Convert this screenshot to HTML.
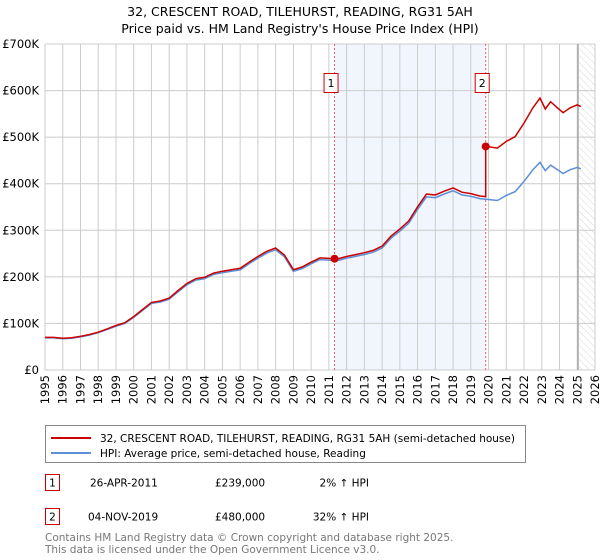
<!DOCTYPE html>
<html><head><meta charset="utf-8"><style>
body{margin:0;background:#fff;font-family:"Liberation Sans","DejaVu Sans",sans-serif;}
#wrap{position:relative;width:600px;height:560px;overflow:hidden}
</style></head><body><div id="wrap">
<svg id="chart" width="600" height="560" xmlns="http://www.w3.org/2000/svg" font-family="DejaVu Sans, Liberation Sans, sans-serif">
<text x="300" y="16" text-anchor="middle" font-size="12.5" fill="#000">32, CRESCENT ROAD, TILEHURST, READING, RG31 5AH</text>
<text x="300" y="33" text-anchor="middle" font-size="12.5" fill="#000">Price paid vs. HM Land Registry's House Price Index (HPI)</text>
<g id="plot"></g>
<g>
<rect x="45.5" y="425.5" width="480" height="37" fill="#fff" stroke="#888"/>
<line x1="51" y1="438" x2="91" y2="438" stroke="#cc0000" stroke-width="2"/>
<text x="100" y="442" font-size="10.5">32, CRESCENT ROAD, TILEHURST, READING, RG31 5AH (semi-detached house)</text>
<line x1="51" y1="453" x2="91" y2="453" stroke="#5b8fd6" stroke-width="2"/>
<text x="100" y="457" font-size="10.5">HPI: Average price, semi-detached house, Reading</text>
</g>
<g font-size="10.5">
<rect x="45.5" y="474.5" width="14" height="16" fill="#fff" stroke="#cc0000"/>
<text x="52.5" y="486.5" text-anchor="middle">1</text>
<text x="90" y="486.5">26-APR-2011</text>
<text x="215" y="486.5">£239,000</text>
<text x="369" y="486.5" text-anchor="end">2% ↑ HPI</text>
<rect x="45.5" y="508.5" width="14" height="16" fill="#fff" stroke="#cc0000"/>
<text x="52.5" y="520.5" text-anchor="middle">2</text>
<text x="88" y="520.5">04-NOV-2019</text>
<text x="215" y="520.5">£480,000</text>
<text x="369" y="520.5" text-anchor="end">32% ↑ HPI</text>
</g>
<text x="45" y="541" font-size="10.5" fill="#777">Contains HM Land Registry data © Crown copyright and database right 2025.</text>
<text x="45" y="553" font-size="10.5" fill="#777">This data is licensed under the Open Government Licence v3.0.</text>
</svg>
<script>
const hpiYears=[1995,1995.5,1996,1996.5,1997,1997.5,1998,1998.5,1999,1999.5,2000,2000.5,2001,2001.5,2002,2002.5,2003,2003.5,2004,2004.5,2005,2005.5,2006,2006.5,2007,2007.5,2008,2008.5,2009,2009.5,2010,2010.5,2011,2011.5,2012,2012.5,2013,2013.5,2014,2014.5,2015,2015.5,2016,2016.5,2017,2017.5,2018,2018.5,2019,2019.5,2020,2020.5,2021,2021.5,2022,2022.5,2022.9,2023.2,2023.5,2023.8,2024.2,2024.6,2025,2025.2];
const hpiValues=[69,69,67,68,71,75,80,87,94,100,113,128,143,146,152,168,183,193,196,205,209,212,215,228,240,251,258,243,212,218,228,237,236,235,240,244,248,253,262,283,298,315,345,372,370,378,385,376,373,368,366,364,375,383,405,430,446,428,440,432,422,430,435,432];
const saleYears=[2011.32,2019.84];
const salePrices=[239,480];
const saleLabels=["1","2"];
const yTicks=[0,100,200,300,400,500,600,700];
const yTickLabels=["£0","£100K","£200K","£300K","£400K","£500K","£600K","£700K"];
const xTicks=[1995,1996,1997,1998,1999,2000,2001,2002,2003,2004,2005,2006,2007,2008,2009,2010,2011,2012,2013,2014,2015,2016,2017,2018,2019,2020,2021,2022,2023,2024,2025,2026];
const dataEnd=2025.1;

const NS="http://www.w3.org/2000/svg";
const L=45,R=595,T=44,B=370,X0=1995,X1=2026,YMAX=700;
const xs=v=>L+(v-X0)/(X1-X0)*(R-L);
const ys=v=>B-v/YMAX*(B-T);
const g=document.getElementById('plot');
function mk(t,a){const e=document.createElementNS(NS,t);for(const k in a)e.setAttribute(k,a[k]);g.appendChild(e);return e;}
function hpiAt(y){for(let i=0;i<hpiYears.length-1;i++){if(y>=hpiYears[i]&&y<=hpiYears[i+1]){const f=(y-hpiYears[i])/(hpiYears[i+1]-hpiYears[i]);return hpiValues[i]+f*(hpiValues[i+1]-hpiValues[i]);}}return hpiValues[hpiValues.length-1];}

let e=mk('rect',{x:xs(saleYears[0]),y:T,width:xs(saleYears[1])-xs(saleYears[0]),height:B-T,fill:'#f1f5fe'});

const defs=document.createElementNS(NS,'defs');defs.innerHTML='<pattern id="hatch" width="5" height="5" patternUnits="userSpaceOnUse" patternTransform="rotate(-45)"><line x1="0" y1="0" x2="0" y2="5" stroke="#ccc" stroke-width="0.8"/></pattern>';g.appendChild(defs);
e=mk('rect',{x:xs(dataEnd),y:T,width:R-xs(dataEnd),height:B-T,fill:'url(#hatch)'});

xTicks.forEach(t=>{const l=mk('line',{x1:xs(t),x2:xs(t),y1:T,y2:B,stroke:'#cccccc','stroke-width':1});

const tx=mk('text',{x:0,y:0,'font-size':11.5,'text-anchor':'end',transform:`translate(${xs(t)+4},${B+5}) rotate(-90)`});tx.textContent=t;
});
yTicks.forEach((t,i)=>{const l=mk('line',{x1:L,x2:R,y1:ys(t),y2:ys(t),stroke:'#cccccc','stroke-width':1});

const tx=mk('text',{x:L-6,y:ys(t)+4,'font-size':11.5,'text-anchor':'end'});tx.textContent=yTickLabels[i];
});
e=mk('line',{x1:xs(dataEnd)-1,x2:xs(dataEnd)-1,y1:T,y2:B,stroke:'#999','stroke-width':1.2});

saleYears.forEach((s,i)=>{const l=mk('line',{x1:xs(s),x2:xs(s),y1:T,y2:B,stroke:'#e06060','stroke-width':1,'stroke-dasharray':'2,2'});

const r=mk('rect',{x:xs(s)-10.5,y:73.5,width:14,height:19,fill:'#fff',stroke:'#cc0000'});

const t=mk('text',{x:xs(s)-3.5,y:87,'font-size':11,'text-anchor':'middle'});t.textContent=saleLabels[i];
});
let d=hpiYears.map((y,i)=>(i?'L':'M')+xs(y).toFixed(1)+','+ys(hpiValues[i]).toFixed(1)).join('');
e=mk('path',{d:d,fill:'none',stroke:'#5b8fd6','stroke-width':1.5});

const r0=salePrices[0]/hpiAt(saleYears[0]),r1=salePrices[1]/hpiAt(saleYears[1]);
let pts=[];hpiYears.forEach((y,i)=>{if(y<saleYears[1])pts.push([y,hpiValues[i]*r0]);});
pts.push([saleYears[1],hpiAt(saleYears[1])*r0]);pts.push([saleYears[1],salePrices[1]]);
hpiYears.forEach((y,i)=>{if(y>saleYears[1])pts.push([y,hpiValues[i]*r1]);});
d=pts.map((p,i)=>(i?'L':'M')+xs(p[0]).toFixed(1)+','+ys(p[1]).toFixed(1)).join('');
e=mk('path',{d:d,fill:'none',stroke:'#cc0000','stroke-width':1.5});

saleYears.forEach((s,i)=>{const c=mk('circle',{cx:xs(s),cy:ys(salePrices[i]),r:4,fill:'#cc0000'});
});
</script></div></body></html>
